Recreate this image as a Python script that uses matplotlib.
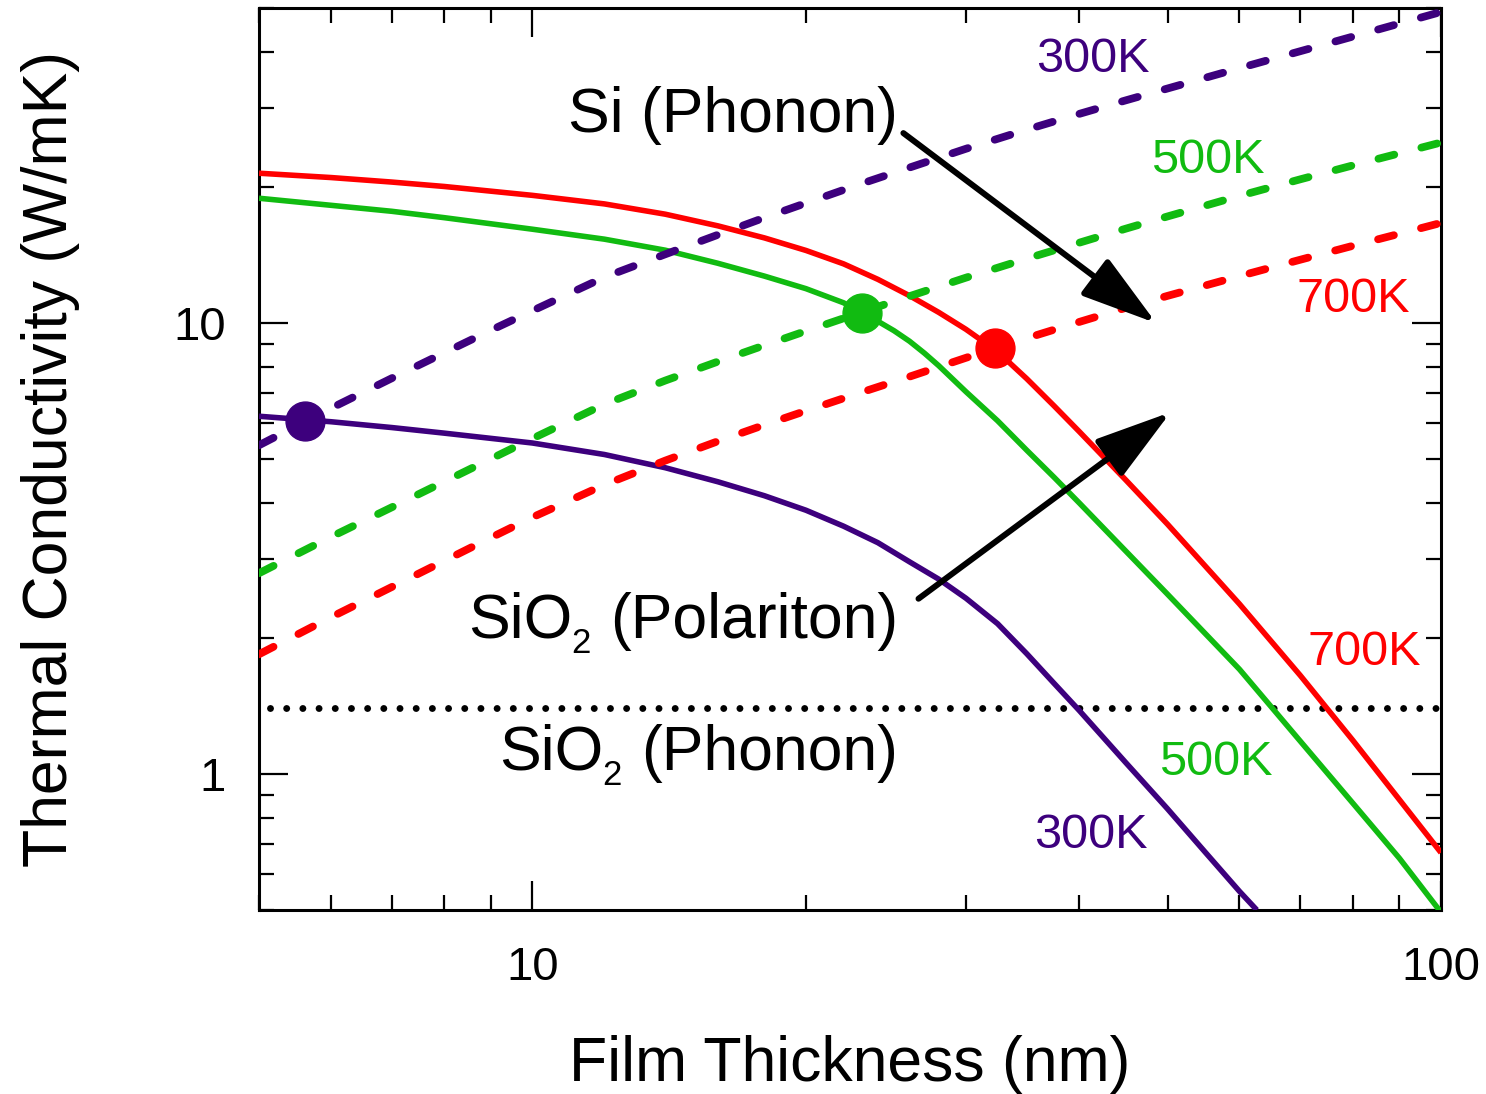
import matplotlib
matplotlib.use("Agg")
import matplotlib.pyplot as plt
from matplotlib.ticker import FixedLocator, LogLocator, NullFormatter, FuncFormatter
from matplotlib.transforms import IdentityTransform

plt.rcParams['font.family'] = ['Liberation Sans', 'DejaVu Sans']

# ---- data ----
# SiO2 polariton contribution (dashed)
x_pol = [5, 6, 7, 8, 9, 10, 12, 14, 16, 18, 20, 23, 26, 30, 35, 40, 45, 50, 60, 70, 80, 90, 100]
pol_300 = [5.363, 6.479, 7.551, 8.603, 9.649, 10.66, 12.65, 14.22, 15.71, 17.14, 18.47, 20.38,
           22.14, 24.37, 26.87, 29.13, 31.21, 33.15, 36.78, 40.10, 43.22, 46.18, 49.0]
pol_500 = [2.791, 3.359, 3.907, 4.456, 5.004, 5.551, 6.613, 7.463, 8.222, 8.933, 9.610, 10.57,
           11.48, 12.62, 13.91, 15.09, 16.21, 17.25, 19.16, 20.85, 22.39, 23.81, 25.16]
pol_700 = [1.845, 2.229, 2.601, 2.974, 3.347, 3.714, 4.383, 4.959, 5.475, 5.951, 6.394, 7.024,
           7.613, 8.382, 9.268, 10.07, 10.82, 11.50, 12.72, 13.83, 14.85, 15.79, 16.69]

# Si phonon (solid)
x_si700 = [5, 6, 7, 8, 10, 12, 14, 16, 18, 20, 22, 24, 26, 28, 30, 32.5, 35, 37.5, 40,
           45, 50, 60, 70, 80, 90, 100]
si_700 = [21.51, 21.04, 20.56, 20.10, 19.21, 18.39, 17.45, 16.44, 15.46, 14.50, 13.54, 12.51,
          11.51, 10.57, 9.694, 8.650, 7.532, 6.560, 5.745, 4.488, 3.584, 2.385, 1.656, 1.188,
          0.878, 0.670]
x_si500 = [5, 6, 7, 8, 10, 12, 14, 16, 18, 20, 22, 23, 24, 25, 26, 27, 28, 30, 32.5, 35,
           37.5, 40, 45, 50, 60, 70, 80, 90, 100]
si_500 = [18.93, 18.26, 17.71, 17.14, 16.16, 15.36, 14.52, 13.58, 12.72, 11.93, 11.10, 10.58,
          10.10, 9.625, 9.123, 8.584, 8.051, 7.049, 6.079, 5.228, 4.556, 3.991, 3.122, 2.507,
          1.709, 1.184, 0.862, 0.651, 0.494]
x_si300 = [5, 6, 7, 8, 10, 12, 14, 16, 18, 20, 22, 24, 26, 28, 30, 32.5, 35, 37.5, 40,
           45, 50, 55, 60, 62.7]
si_300 = [6.220, 6.048, 5.871, 5.705, 5.425, 5.116, 4.782, 4.451, 4.145, 3.849, 3.548, 3.261,
          2.958, 2.707, 2.456, 2.157, 1.850, 1.591, 1.383, 1.060, 0.838, 0.672, 0.550, 0.50]

# SiO2 phonon (dotted, constant)
x_sio2_ph = [5.14, 100]
sio2_ph = [1.4, 1.4]

# crossover markers
mark_x = [5.62, 23.04, 32.3]
mark_y = [6.06, 10.54, 8.83]

c300 = '#3d007d'
c500 = '#11bb11'
c700 = '#ff0000'
mark_c = [c300, c500, c700]

W, H = 1486, 1094
fig = plt.figure(figsize=(W / 100, H / 100), dpi=100)
ax = fig.add_axes([259 / W, 1 - 910 / H, (1441 - 259) / W, (910 - 8) / H])
ax.set_xscale('log')
ax.set_yscale('log')
ax.set_xlim(5, 100)
ax.set_ylim(0.5, 50)

# dotted SiO2 phonon
ax.plot(x_sio2_ph, sio2_ph, color='k', lw=5.0, dashes=(0.001, 2.33),
        dash_capstyle='round', zorder=2)

# solid Si phonon curves
for xs, ys, c in [(x_si300, si_300, c300), (x_si500, si_500, c500), (x_si700, si_700, c700)]:
    ax.plot(xs, ys, color=c, lw=4.0, solid_capstyle='butt', solid_joinstyle='round', zorder=3)

# dashed polariton curves
for ys, c in [(pol_300, c300), (pol_500, c500), (pol_700, c700)]:
    ax.plot(x_pol, ys, color=c, lw=5.6, dashes=(2.1, 3.6),
            dash_capstyle='round', zorder=4)

for mx, my, mc in zip(mark_x, mark_y, mark_c):
    ax.plot([mx], [my], 'o', color=mc, ms=28, zorder=6)

# arrows
arrow_kw = dict(arrowstyle='-|>,head_length=0.67,head_width=0.2', lw=4.3,
                color='k', mutation_scale=70, shrinkA=0, shrinkB=0)
ax.annotate('', xy=(48.6, 10.0), xytext=(25.6, 26.4), arrowprops=arrow_kw, zorder=7)
ax.annotate('', xy=(50.4, 6.35), xytext=(26.6, 2.45), arrowprops=arrow_kw, zorder=7)

# ---- text labels ----
big = 45
ident = IdentityTransform()
fig.text(898, H - 132, 'Si (Phonon)', fontsize=big, ha='right', va='baseline',
         transform=ident, zorder=8)

renderer = fig.canvas.get_renderer()


def sio2_label(right_px, base_py, rest):
    yb = H - base_py
    t3 = fig.text(right_px, yb, rest, fontsize=big, ha='right', va='baseline', transform=ident)
    x0 = t3.get_window_extent(renderer).x0
    t2 = fig.text(x0 - 19, yb - 15, '2', fontsize=25, ha='right', va='baseline', transform=ident)
    x1 = t2.get_window_extent(renderer).x0
    fig.text(x1 + 1, yb, 'SiO', fontsize=big, ha='right', va='baseline', transform=ident)


sio2_label(898, 638, '(Polariton)')
sio2_label(898, 770, '(Phonon)')

klab = 35
kk = dict(fontsize=klab, ha='center', va='baseline', transform=ax.transAxes)
ax.text(0.7052, 0.9290, '300K', color=c300, **kk)
ax.text(0.8024, 0.8171, '500K', color=c500, **kk)
ax.text(0.9255, 0.6630, '700K', color=c700, **kk)
ax.text(0.9349, 0.2716, '700K', color=c700, **kk)
ax.text(0.8096, 0.1497, '500K', color=c500, **kk)
ax.text(0.7039, 0.0687, '300K', color=c300, **kk)

# ticks
ax.xaxis.set_major_locator(FixedLocator([10, 100]))
ax.yaxis.set_major_locator(FixedLocator([1, 10]))
ax.xaxis.set_minor_locator(LogLocator(base=10, subs=range(2, 10)))
ax.yaxis.set_minor_locator(LogLocator(base=10, subs=range(2, 10)))
fmt = FuncFormatter(lambda v, p: '%g' % v)
ax.xaxis.set_major_formatter(fmt)
ax.yaxis.set_major_formatter(fmt)
ax.xaxis.set_minor_formatter(NullFormatter())
ax.yaxis.set_minor_formatter(NullFormatter())
ax.tick_params(which='both', direction='in', top=True, right=True, width=1.6)
ax.tick_params(which='major', length=21, labelsize=34)
ax.tick_params(axis='x', which='major', pad=26)
ax.tick_params(axis='y', which='major', pad=24)
ax.tick_params(which='minor', length=10.5)
for s in ax.spines.values():
    s.set_linewidth(2.2)

ax.set_xlabel('Film Thickness (nm)', fontsize=big)
ax.set_ylabel('Thermal Conductivity (W/mK)', fontsize=big)
ax.xaxis.set_label_coords(0.5, -0.139)
ax.yaxis.set_label_coords(-0.1514, 0.5)

fig.savefig('out.png', dpi=100)
